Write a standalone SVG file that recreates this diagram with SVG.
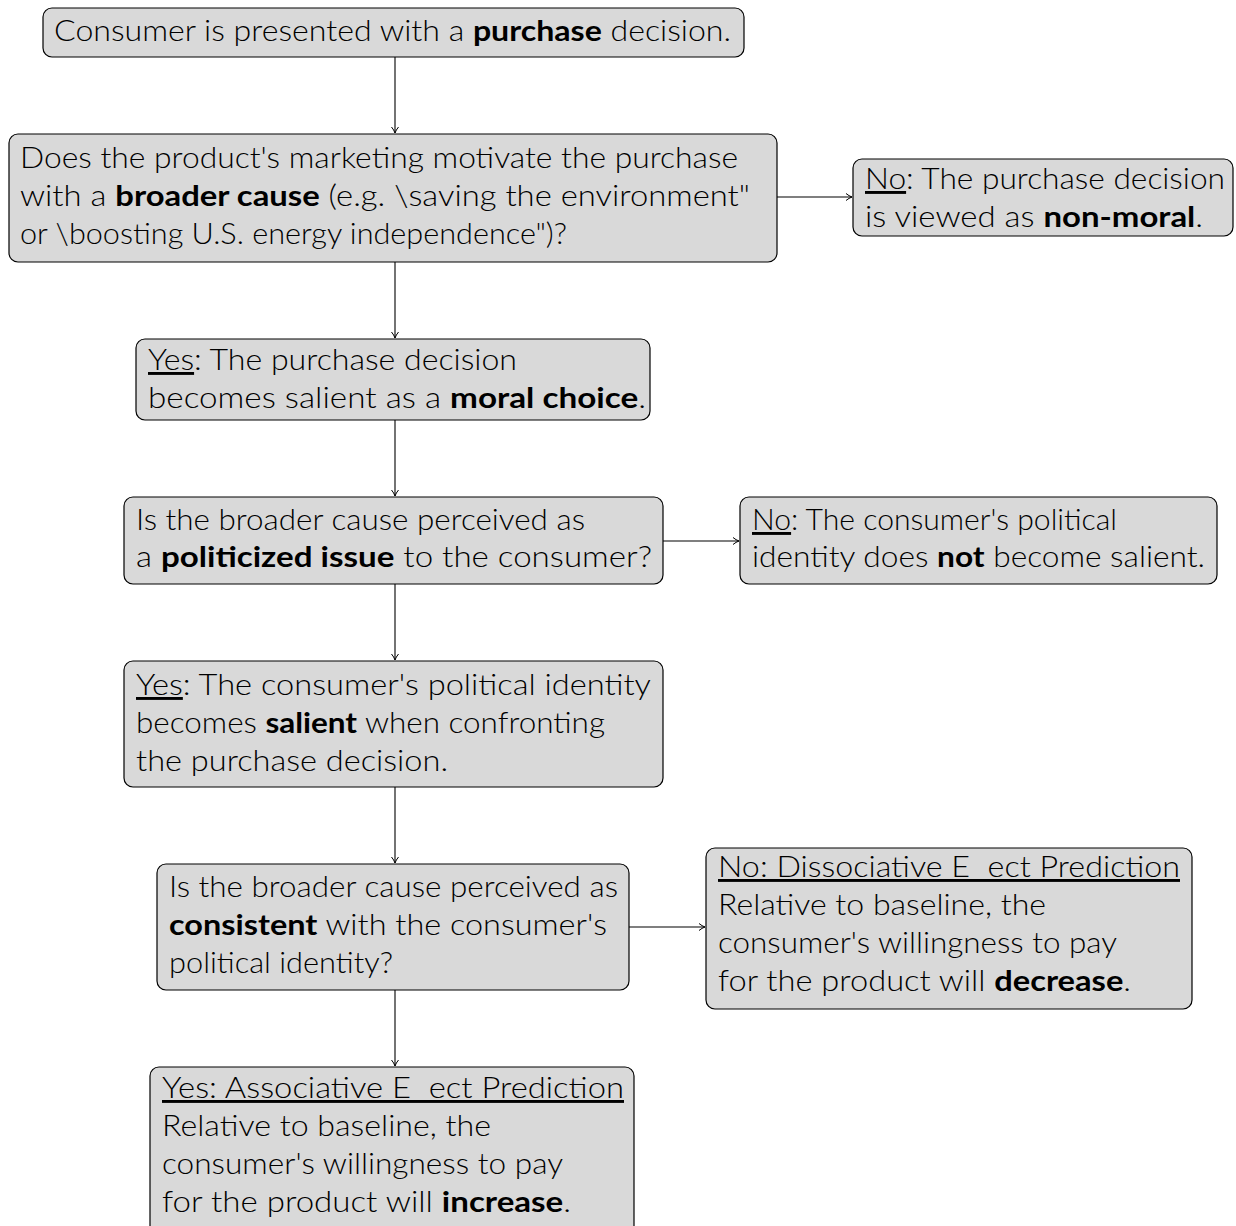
<svg xmlns="http://www.w3.org/2000/svg" width="1236" height="1226" viewBox="0 0 1236 1226">
<style>
.box{fill:#d9d9d9;stroke:#000;stroke-width:1.2}
text{font-family:Lato,"Liberation Sans",Arial,sans-serif;font-weight:300;font-size:29px;fill:#000}
.b{font-weight:700}
.u{text-decoration:underline}
.c{stroke:#000;stroke-width:1.1;fill:none}
</style>
<defs>
<marker id="ah" markerWidth="10" markerHeight="10" refX="8" refY="4" orient="auto" markerUnits="userSpaceOnUse">
<path d="M2,0.5 Q5,3 8,4 Q5,5 2,7.5" fill="none" stroke="#000" stroke-width="1"/>
</marker>
</defs>
<g id="connectors">
<line class="c" x1="395" y1="57" x2="395" y2="133" marker-end="url(#ah)"/>
<line class="c" x1="777" y1="197" x2="852" y2="197" marker-end="url(#ah)"/>
<line class="c" x1="395" y1="262" x2="395" y2="338" marker-end="url(#ah)"/>
<line class="c" x1="395" y1="420" x2="395" y2="496" marker-end="url(#ah)"/>
<line class="c" x1="663" y1="541" x2="739" y2="541" marker-end="url(#ah)"/>
<line class="c" x1="395" y1="584" x2="395" y2="660" marker-end="url(#ah)"/>
<line class="c" x1="395" y1="787" x2="395" y2="863" marker-end="url(#ah)"/>
<line class="c" x1="629" y1="927" x2="705" y2="927" marker-end="url(#ah)"/>
<line class="c" x1="395" y1="990" x2="395" y2="1066" marker-end="url(#ah)"/>
</g>
<g id="n1">
<rect class="box" x="43" y="8" width="701" height="49" rx="9"/>
<text x="54" y="41" textLength="677" lengthAdjust="spacingAndGlyphs">Consumer is presented with a <tspan class="b">purchase</tspan> decision.</text>
</g>
<g id="n2">
<rect class="box" x="9" y="134" width="768" height="128" rx="9"/>
<text x="20" y="168" textLength="718" lengthAdjust="spacingAndGlyphs">Does the product's marketing motivate the purchase</text>
<text x="20" y="206" textLength="730" lengthAdjust="spacingAndGlyphs">with a <tspan class="b">broader cause</tspan> (e.g. \saving the environment"</text>
<text x="20" y="244" textLength="547" lengthAdjust="spacingAndGlyphs">or \boosting U.S. energy independence")?</text>
</g>
<g id="n3">
<rect class="box" x="853" y="159" width="380" height="77" rx="9"/>
<text x="865" y="189" textLength="360" lengthAdjust="spacingAndGlyphs"><tspan class="u">No</tspan>: The purchase decision</text>
<text x="865" y="227" textLength="338" lengthAdjust="spacingAndGlyphs">is viewed as <tspan class="b">non-moral</tspan>.</text>
</g>
<g id="n4">
<rect class="box" x="136" y="339" width="514" height="81" rx="9"/>
<text x="148" y="370" textLength="369" lengthAdjust="spacingAndGlyphs"><tspan class="u">Yes</tspan>: The purchase decision</text>
<text x="148" y="408" textLength="498" lengthAdjust="spacingAndGlyphs">becomes salient as a <tspan class="b">moral choice</tspan>.</text>
</g>
<g id="n5">
<rect class="box" x="124" y="497" width="539" height="87" rx="9"/>
<text x="136" y="530" textLength="449" lengthAdjust="spacingAndGlyphs">Is the broader cause perceived as</text>
<text x="136" y="567" textLength="516" lengthAdjust="spacingAndGlyphs">a <tspan class="b">politicized issue</tspan> to the consumer?</text>
</g>
<g id="n6">
<rect class="box" x="740" y="497" width="477" height="87" rx="9"/>
<text x="752" y="530" textLength="365" lengthAdjust="spacingAndGlyphs"><tspan class="u">No</tspan>: The consumer's political</text>
<text x="752" y="567" textLength="453" lengthAdjust="spacingAndGlyphs">identity does <tspan class="b">not</tspan> become salient.</text>
</g>
<g id="n7">
<rect class="box" x="124" y="661" width="539" height="126" rx="9"/>
<text x="136" y="695" textLength="515" lengthAdjust="spacingAndGlyphs"><tspan class="u">Yes</tspan>: The consumer's political identity</text>
<text x="136" y="733" textLength="469" lengthAdjust="spacingAndGlyphs">becomes <tspan class="b">salient</tspan> when confronting</text>
<text x="136" y="771" textLength="312" lengthAdjust="spacingAndGlyphs">the purchase decision.</text>
</g>
<g id="n8">
<rect class="box" x="157" y="864" width="472" height="126" rx="9"/>
<text x="169" y="897" textLength="449" lengthAdjust="spacingAndGlyphs">Is the broader cause perceived as</text>
<text x="169" y="935" textLength="438" lengthAdjust="spacingAndGlyphs"><tspan class="b">consistent</tspan> with the consumer's</text>
<text x="169" y="973" textLength="224" lengthAdjust="spacingAndGlyphs">political identity?</text>
</g>
<g id="n9">
<rect class="box" x="706" y="848" width="486" height="161" rx="9"/>
<text x="718" y="877" textLength="462" lengthAdjust="spacingAndGlyphs" class="u" xml:space="preserve">No: Dissociative E  ect Prediction</text>
<text x="718" y="915" textLength="328" lengthAdjust="spacingAndGlyphs">Relative to baseline, the</text>
<text x="718" y="953" textLength="399" lengthAdjust="spacingAndGlyphs">consumer's willingness to pay</text>
<text x="718" y="991" textLength="413" lengthAdjust="spacingAndGlyphs">for the product will <tspan class="b">decrease</tspan>.</text>
</g>
<g id="n10">
<rect class="box" x="150" y="1067" width="484" height="170" rx="9"/>
<text x="162" y="1098" textLength="462" lengthAdjust="spacingAndGlyphs" class="u" xml:space="preserve">Yes: Associative E  ect Prediction</text>
<text x="162" y="1136" textLength="329" lengthAdjust="spacingAndGlyphs">Relative to baseline, the</text>
<text x="162" y="1174" textLength="401" lengthAdjust="spacingAndGlyphs">consumer's willingness to pay</text>
<text x="162" y="1212" textLength="409" lengthAdjust="spacingAndGlyphs">for the product will <tspan class="b">increase</tspan>.</text>
</g>
</svg>
